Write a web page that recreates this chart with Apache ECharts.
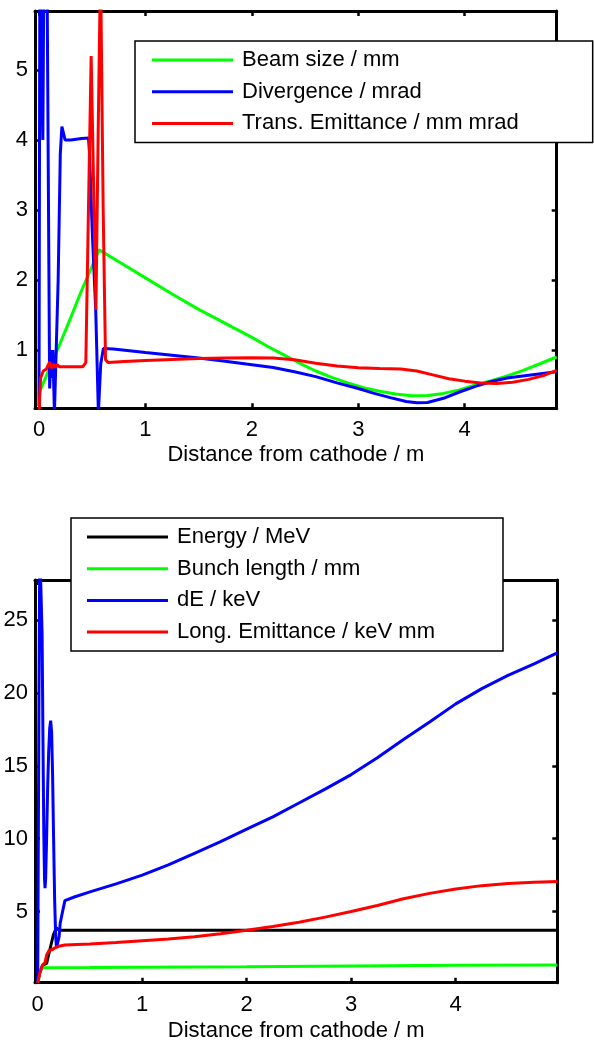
<!DOCTYPE html>
<html><head><meta charset="utf-8">
<script src="https://cdn.jsdelivr.net/npm/echarts@6/dist/echarts.min.js"></script>
<style>html,body{margin:0;padding:0;background:#fff}#c{width:594px;height:1042px}</style>
</head><body><div id="c"></div><script>
// ---------- data: top panel (transverse) ----------
const topNames = ['Beam size / mm', 'Divergence / mrad', 'Trans. Emittance / mm mrad'];
const beamSize = [[0,0.38],[0.1,0.74],[0.2,1.1],[0.3,1.47],[0.4,1.85],[0.5,2.2],[0.565,2.43],[0.75,2.26],[1.0,2.03],[1.25,1.8],[1.5,1.58],[1.75,1.38],[2.0,1.18],[2.15,1.05],[2.3,0.93],[2.45,0.81],[2.6,0.7],[2.75,0.61],[2.9,0.53],[3.05,0.46],[3.2,0.41],[3.35,0.37],[3.5,0.345],[3.65,0.35],[3.8,0.38],[3.95,0.43],[4.1,0.5],[4.25,0.56],[4.4,0.63],[4.55,0.71],[4.7,0.8],[4.864,0.9]];
const divergence = [[0,0.2],[0.008,6.5],[0.022,6.5],[0.036,4.0],[0.046,6.5],[0.075,6.5],[0.1,0.45],[0.115,1.0],[0.125,0.6],[0.13,1.0],[0.145,0.1],[0.16,0.1],[0.18,2.0],[0.2,3.8],[0.215,4.19],[0.23,4.1],[0.245,4.0],[0.3,4.0],[0.4,4.02],[0.465,4.03],[0.475,3.8],[0.5,2.7],[0.533,1.57],[0.558,0.1],[0.58,0.8],[0.605,1.02],[0.7,1.015],[0.85,0.99],[1.0,0.965],[1.25,0.925],[1.5,0.885],[1.75,0.84],[2.0,0.79],[2.2,0.75],[2.4,0.69],[2.6,0.62],[2.8,0.53],[3.0,0.45],[3.15,0.38],[3.3,0.32],[3.45,0.265],[3.55,0.245],[3.65,0.25],[3.8,0.31],[3.95,0.4],[4.1,0.48],[4.25,0.55],[4.4,0.6],[4.6,0.64],[4.864,0.69]];
const transEmittance = [[0,0.1],[0.015,0.6],[0.04,0.7],[0.07,0.73],[0.1,0.83],[0.12,0.74],[0.14,0.8],[0.155,0.75],[0.17,0.79],[0.19,0.76],[0.25,0.76],[0.41,0.76],[0.44,0.82],[0.46,2.6],[0.49,5.2],[0.51,3.6],[0.535,1.57],[0.555,4.0],[0.578,6.5],[0.603,3.0],[0.625,0.86],[0.65,0.82],[0.8,0.835],[1.0,0.85],[1.25,0.865],[1.5,0.88],[1.75,0.887],[2.0,0.89],[2.2,0.885],[2.4,0.86],[2.6,0.81],[2.8,0.77],[3.0,0.745],[3.2,0.735],[3.4,0.728],[3.55,0.7],[3.7,0.645],[3.85,0.59],[4.0,0.555],[4.15,0.53],[4.3,0.52],[4.45,0.54],[4.6,0.58],[4.75,0.64],[4.864,0.71]];
// ---------- data: bottom panel (longitudinal) ----------
const bottomNames = ['Energy / MeV', 'Bunch length / mm', 'dE / keV', 'Long. Emittance / keV mm'];
const energy = [[0,0.12],[0.02,0.8],[0.045,1.3],[0.085,1.45],[0.12,2.5],[0.15,3.4],[0.178,3.88],[0.2,3.75],[0.22,3.72],[1,3.72],[2,3.72],[3,3.72],[4,3.72],[4.972,3.72]];
const bunchLength = [[0,0.12],[0.02,0.9],[0.04,1.15],[0.5,1.16],[1,1.18],[2,1.22],[3,1.27],[4,1.31],[4.972,1.34]];
const dE = [[0,0.12],[0.012,20],[0.02,30],[0.035,30],[0.042,24],[0.05,17],[0.058,10.5],[0.065,7.3],[0.07,6.6],[0.076,7.3],[0.085,10],[0.095,13.5],[0.105,16],[0.115,17.6],[0.124,18.1],[0.133,17.3],[0.142,14.5],[0.152,10],[0.162,5.8],[0.172,3.3],[0.18,2.5],[0.195,2.5],[0.205,3.3],[0.215,4.2],[0.232,4.8],[0.26,5.75],[0.35,6.0],[0.5,6.35],[0.75,6.9],[1,7.5],[1.25,8.2],[1.5,9.0],[1.75,9.8],[2,10.65],[2.25,11.5],[2.5,12.45],[2.75,13.4],[3,14.4],[3.25,15.55],[3.5,16.8],[3.75,18.0],[4,19.25],[4.25,20.3],[4.5,21.2],[4.75,22.0],[4.972,22.75]];
const longEmittance = [[0,0.12],[0.02,0.8],[0.047,1.34],[0.07,1.5],[0.086,2.03],[0.11,2.35],[0.14,2.38],[0.16,2.5],[0.2,2.62],[0.26,2.7],[0.5,2.78],[0.75,2.88],[1,3.0],[1.25,3.12],[1.5,3.28],[1.75,3.48],[2,3.72],[2.25,3.97],[2.5,4.27],[2.75,4.62],[3,5.0],[3.25,5.42],[3.5,5.88],[3.75,6.25],[4,6.55],[4.25,6.78],[4.5,6.93],[4.75,7.02],[4.972,7.06]];
// axis extents
const topX = [-0.0376, 4.864], topY = [0.167, 5.843];
const botX = [-0.026, 4.972], botY = [0.12, 27.75];
const xName = 'Distance from cathode / m';

const FONT = '"Liberation Sans", Arial, Helvetica, sans-serif';
const FS = 22;
const intFmt = v => (Math.abs(v - Math.round(v)) < 1e-9 ? String(Math.round(v)) : '');

function axis(gridIndex, ext, position, primary, margin, name, nameGap) {
  const a = {
    type: 'value', gridIndex, min: ext[0], max: ext[1], position,
    splitNumber: 5,
    splitLine: { show: false },
    axisLine: { show: true, onZero: false, lineStyle: { color: '#000', width: 3 } },
    axisTick: { show: true, inside: true, length: 5, lineStyle: { color: '#000', width: 2.5 } },
    axisLabel: { show: primary, margin: margin || 8, color: '#000', fontSize: FS, fontFamily: FONT, formatter: intFmt, hideOverlap: false },
    silent: true
  };
  if (name) {
    a.name = name; a.nameLocation = 'middle'; a.nameGap = nameGap; a.nameMoveOverlap = false;
    a.nameTextStyle = { color: '#000', fontSize: FS, fontFamily: FONT };
  }
  return a;
}

function line(name, data, color, xi, yi) {
  return { name, type: 'line', data, xAxisIndex: xi, yAxisIndex: yi, color,
    showSymbol: false, symbol: 'none', clip: true, animation: false,
    lineStyle: { color, width: 3 } };
}

function legend(names, left, top, pad) {
  return { data: names, orient: 'vertical', left, top, padding: pad, itemGap: 9.7,
    itemWidth: 81, itemHeight: 3, icon: 'rect', selectedMode: false,
    backgroundColor: '#fff', borderColor: '#000', borderWidth: 1.5, z: 10,
    textStyle: { color: '#000', fontSize: FS, fontFamily: FONT, padding: [0, 0, 0, 4] } };
}

const chart = echarts.init(document.getElementById('c'), null, { renderer: 'canvas' });
chart.setOption({
  backgroundColor: '#fff',
  animation: false,
  grid: [
    { left: 35, top: 11, width: 521.7, height: 397.3, containLabel: false, outerBoundsMode: 'none' },
    { left: 35, top: 580, width: 522.3, height: 402.7, containLabel: false, outerBoundsMode: 'none' }
  ],
  xAxis: [
    axis(0, topX, 'bottom', true, 11, xName, 36),
    axis(0, topX, 'top', false),
    axis(1, botX, 'bottom', true, 11, xName, 37.5),
    axis(1, botX, 'top', false)
  ],
  yAxis: [
    axis(0, topY, 'left', true, 7),
    axis(0, topY, 'right', false),
    axis(1, botY, 'left', true, 7),
    axis(1, botY, 'right', false)
  ],
  legend: [
    legend(topNames, 135, 41, [8, 74, 8, 17]),
    legend(bottomNames, 71, 518, [8, 68, 8, 16])
  ],
  series: [
    line(topNames[0], beamSize, '#00ff00', 0, 0),
    line(topNames[1], divergence, '#0000ff', 0, 0),
    line(topNames[2], transEmittance, '#ff0000', 0, 0),
    line(bottomNames[0], energy, '#000000', 2, 2),
    line(bottomNames[1], bunchLength, '#00ff00', 2, 2),
    line(bottomNames[2], dE, '#0000ff', 2, 2),
    line(bottomNames[3], longEmittance, '#ff0000', 2, 2)
  ]
});
</script></body></html>
